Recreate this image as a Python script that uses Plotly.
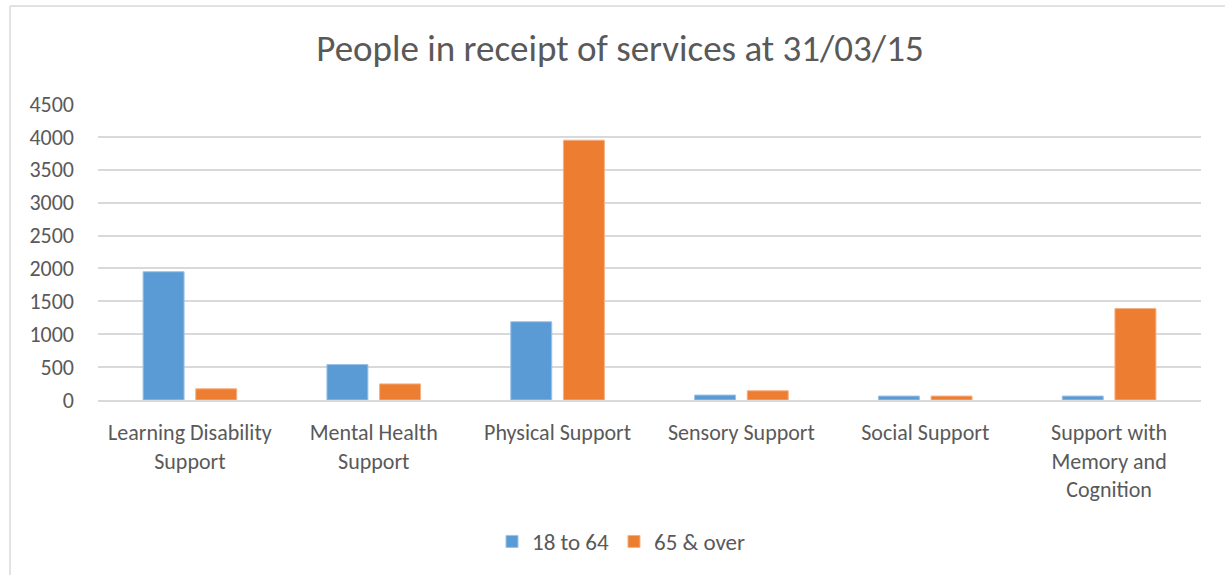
import plotly.graph_objects as go

categories = ["Learning Disability<br>Support", "Mental Health<br>Support", "Physical Support",
              "Sensory Support", "Social Support", "Support with<br>Memory and<br>Cognition"]
age_18_64 = [1950, 540, 1190, 75, 60, 60]
age_65_over = [170, 245, 3950, 140, 60, 1390]
y_ticks = [0, 500, 1000, 1500, 2000, 2500, 3000, 3500, 4000, 4500]

FONT = "Carlito, Lato, sans-serif"
TXT = "#595959"

fig = go.Figure()
fig.add_trace(go.Bar(name="18 to 64", x=categories, y=age_18_64,
                     marker=dict(color="#5B9BD5", line=dict(color="#9DC3E6", width=1))))
fig.add_trace(go.Bar(name="65 & over", x=categories, y=age_65_over,
                     marker=dict(color="#ED7D31", line=dict(color="#F4B183", width=1))))

fig.update_layout(
    width=1225, height=575,
    margin=dict(l=98, r=24, t=104, b=175, autoexpand=False),
    paper_bgcolor="white", plot_bgcolor="white",
    barmode="group", bargap=0.427, bargroupgap=0.222,
    font=dict(family=FONT, color=TXT, size=22),
    title=dict(text="People in receipt of services at 31/03/15", x=620 / 1225, xanchor="center",
               y=1 - 48 / 575, yanchor="middle", yref="container",
               font=dict(family=FONT, size=37, color=TXT)),
    legend=dict(orientation="h", x=0.5 - 28 / 1103, xanchor="center", y=-0.478, yanchor="middle",
                font=dict(family=FONT, size=23, color=TXT), itemwidth=30,
                traceorder="normal"),
    showlegend=True,
)
fig.update_yaxes(range=[0, 4500], tickvals=y_ticks, ticktext=[str(v) for v in y_ticks],
                 showgrid=True, gridcolor="#D9D9D9", gridwidth=1.5, zeroline=False,
                 showline=False, ticks="", ticklabelstandoff=23,
                 tickfont=dict(family=FONT, size=22, color=TXT))
fig.update_xaxes(showline=True, linecolor="#D9D9D9", linewidth=1.5, ticks="outside",
                 ticklen=12, tickcolor="rgba(0,0,0,0)",
                 tickfont=dict(family=FONT, size=22, color=TXT), tickangle=0)

# outer chart border (left and top edges visible)
fig.add_shape(type="line", xref="paper", yref="paper",
              x0=(10 - 98) / 1103, x1=(10 - 98) / 1103, y0=(399.5 - 580) / 296, y1=(399.5 - 5.5) / 296,
              line=dict(color="#D9D9D9", width=1.5))
fig.add_shape(type="line", xref="paper", yref="paper",
              x0=(10 - 98) / 1103, x1=(1230 - 98) / 1103, y0=(399.5 - 5.5) / 296, y1=(399.5 - 5.5) / 296,
              line=dict(color="#D9D9D9", width=1.5))

fig.write_html("out.html", post_script="document.body.style.margin='0';",
               config={"displayModeBar": False})
